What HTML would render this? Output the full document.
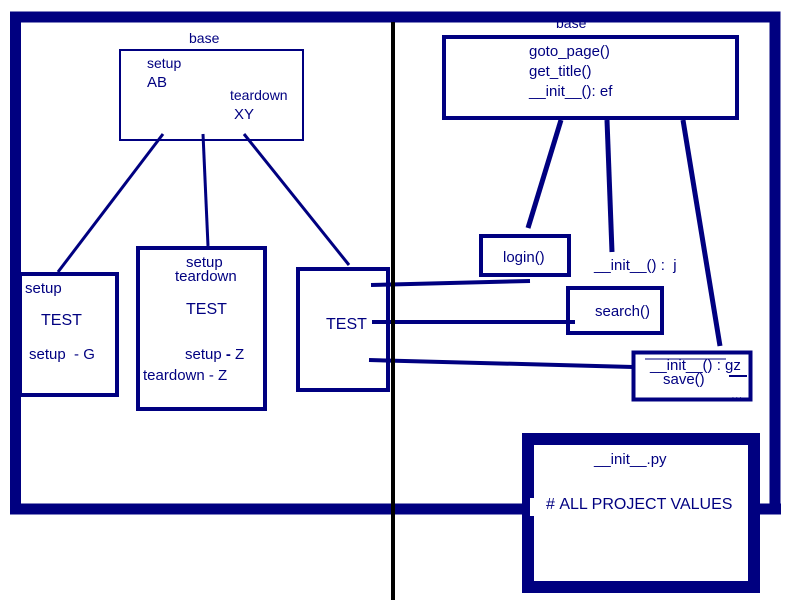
<!DOCTYPE html>
<html><head><meta charset="utf-8"><style>
body{margin:0;width:800px;height:600px;background:#fff;position:relative;overflow:hidden;font-family:"Liberation Sans",sans-serif;color:#000080}
.t{position:absolute;font-size:15px;white-space:nowrap;line-height:1}
</style></head><body>
<svg width="800" height="600" style="position:absolute;left:0;top:0">
<g fill="none" stroke="#000080">
<path d="M15.5 510 V17 H775 V509" stroke-width="11"/>
<line x1="10" y1="509" x2="530" y2="509" stroke-width="11"/>
<line x1="748" y1="509" x2="781" y2="509" stroke-width="11"/>
<rect x="528" y="439" width="226" height="148" stroke-width="12"/>
<rect x="120" y="50" width="183" height="90" stroke-width="2"/>
<line x1="163" y1="134" x2="58" y2="272" stroke-width="3"/>
<line x1="203" y1="134" x2="208" y2="246" stroke-width="3"/>
<line x1="244" y1="134" x2="349" y2="265" stroke-width="3"/>
<rect x="20" y="274" width="97" height="121" stroke-width="4"/>
<rect x="138" y="248" width="127" height="161" stroke-width="4"/>
<rect x="298" y="269" width="90" height="121" stroke-width="4"/>
<line x1="371" y1="285" x2="530" y2="281" stroke-width="4"/>
<line x1="372" y1="322" x2="575" y2="322" stroke-width="4"/>
<line x1="369" y1="360" x2="633" y2="367" stroke-width="4"/>
<rect x="444" y="37" width="293" height="81" stroke-width="4"/>
<line x1="561" y1="120" x2="528" y2="228" stroke-width="5"/>
<line x1="607" y1="120" x2="612" y2="252" stroke-width="5"/>
<line x1="683" y1="120" x2="720" y2="346" stroke-width="5"/>
<rect x="481" y="236" width="88" height="39" stroke-width="4"/>
<rect x="568" y="288" width="94" height="45" stroke-width="4"/>
<rect x="633.5" y="352.5" width="117" height="47" stroke-width="4"/>
<line x1="645" y1="359" x2="726" y2="359" stroke-width="1"/>
<line x1="729" y1="376" x2="747" y2="376" stroke-width="2"/>
</g>
<line x1="393" y1="22" x2="393" y2="600" stroke="#000" stroke-width="4"/>
<rect x="530" y="498" width="6" height="18" fill="#fff"/>
</svg>
<div class="t" style="left:189px;top:31px;font-size:14px">base</div>
<div class="t" style="left:147px;top:56px;font-size:14px">setup</div>
<div class="t" style="left:147px;top:75px">AB</div>
<div class="t" style="left:230px;top:88px;font-size:14px">teardown</div>
<div class="t" style="left:234px;top:107px">XY</div>
<div class="t" style="left:25px;top:281px">setup</div>
<div class="t" style="left:41px;top:313px;font-size:16px">TEST</div>
<div class="t" style="left:29px;top:347px">setup &nbsp;- G</div>
<div class="t" style="left:186px;top:255px">setup</div>
<div class="t" style="left:175px;top:269px">teardown</div>
<div class="t" style="left:186px;top:302px;font-size:16px">TEST</div>
<div class="t" style="left:185px;top:347px">setup <b>-</b> Z</div>
<div class="t" style="left:143px;top:368px">teardown - Z</div>
<div class="t" style="left:326px;top:317px;font-size:16px">TEST</div>
<div class="t" style="left:556px;top:16px;font-size:14px">base</div>
<div class="t" style="left:529px;top:44px">goto_page()</div>
<div class="t" style="left:529px;top:64px">get_title()</div>
<div class="t" style="left:529px;top:84px">__init__(): ef</div>
<div class="t" style="left:503px;top:250px">login()</div>
<div class="t" style="left:594px;top:258px">__init__() : &nbsp;j</div>
<div class="t" style="left:595px;top:304px">search()</div>
<div class="t" style="left:650px;top:358px">__init__() : gz</div>
<div class="t" style="left:663px;top:372px">save()</div>
<div class="t" style="left:731px;top:397px;font-size:10px">***</div>
<div class="t" style="left:594px;top:452px">__init__.py</div>
<div class="t" style="left:546px;top:497px;font-size:16px">#&nbsp;ALL PROJECT VALUES</div>
</body></html>
